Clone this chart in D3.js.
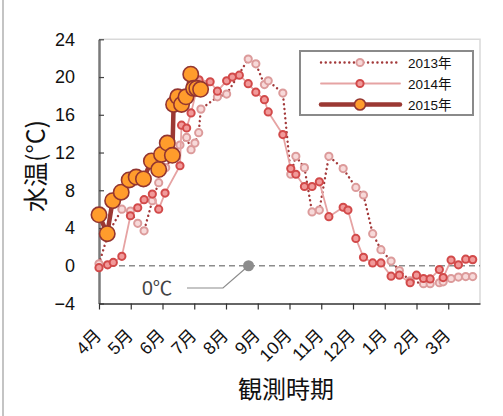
<!DOCTYPE html>
<html>
<head>
<meta charset="utf-8">
<script src="https://cdn.jsdelivr.net/npm/d3@7"></script>
<style>
  body { margin:0; background:#fff; }
  text { font-family: "Liberation Sans", "Noto Sans CJK JP", sans-serif; }
</style>
</head>
<body>
<script>
// month offset from Apr 1 (0..12), water temp
const months = ['4月','5月','6月','7月','8月','9月','10月','11月','12月','1月','2月','3月'];
const yTicks = [-4,0,4,8,12,16,20,24];

const d2013 = [[0,0.2],[0.3,3.5],[0.72,6.0],[0.99,5.8],[1.22,4.5],[1.42,3.7],[1.68,6.9],[1.88,8.8],[2.10,10.4],[2.55,12.8],[2.76,13.6],[2.90,12.3],[3.02,13.0],[3.14,14.1],[3.21,16.6],[3.73,17.9],[4.02,18.2],[4.70,21.9],[4.94,21.4],[5.21,19.2],[5.33,19.6],[5.79,18.3],[6.04,9.7],[6.20,11.6],[6.47,10.4],[6.71,5.7],[6.94,5.9],[7.24,11.6],[7.69,10.3],[8.09,8.3],[8.33,7.5],[8.62,3.4],[8.88,1.7],[9.20,0.5],[9.46,-0.5],[9.80,-1.6],[10.22,-1.9],[10.43,-1.9],[10.72,-1.8],[10.84,-1.7],[11.09,-1.35],[11.32,-1.2],[11.55,-1.15],[11.77,-1.15]];

const d2014 = [[0,-0.2],[0.27,0.1],[0.45,0.35],[0.72,1.0],[0.99,5.3],[1.22,6.15],[1.42,7.0],[1.68,7.6],[1.88,6.0],[2.08,7.7],[2.55,10.6],[2.60,14.9],[2.76,14.6],[2.90,16.2],[3.15,19.7],[3.50,19.5],[3.73,18.5],[4.02,19.6],[4.20,20.0],[4.42,20.2],[4.70,19.3],[4.94,18.4],[5.21,17.6],[5.33,16.3],[5.79,13.9],[6.04,10.3],[6.20,9.7],[6.47,8.4],[6.71,8.4],[6.94,8.9],[7.24,5.2],[7.69,6.2],[7.84,5.9],[8.09,2.9],[8.33,0.9],[8.62,0.3],[8.88,0.3],[9.20,-1.1],[9.46,-1.0],[9.80,-1.8],[10.0,-1.0],[10.22,-1.35],[10.43,-1.4],[10.72,-0.4],[10.84,-1.25],[11.09,0.6],[11.32,0.1],[11.55,0.7],[11.77,0.65]];

const d2015 = [[0,5.4],[0.26,3.4],[0.43,6.9],[0.70,7.8],[0.95,9.1],[1.17,9.4],[1.40,9.2],[1.65,11.1],[1.88,10.2],[1.97,11.8],[2.15,13.0],[2.31,11.7],[2.35,17.1],[2.48,17.9],[2.60,17.1],[2.74,17.9],[2.89,20.3],[2.98,18.8],[3.08,18.8],[3.20,18.7]];

const w = 503, h = 416;
const svg = d3.select('body').append('svg').attr('width',w).attr('height',h);

const x = d3.scaleLinear().domain([0,12]).range([99,480]);
const y = d3.scaleLinear().domain([-4,24]).range([303.5,39.3]);

// outer frame line on left
svg.append('line').attr('x1',3).attr('x2',3).attr('y1',0).attr('y2',h)
  .attr('stroke','#b0b0b0').attr('stroke-width',1.5);

// light border top/right
svg.append('path')
  .attr('d',`M${x(0)},${y(24)}H${x(12)}V${y(-4)}`)
  .attr('fill','none').attr('stroke','#d9d9d9').attr('stroke-width',1.5);

// zero line
svg.append('line').attr('x1',x(0)).attr('x2',x(12)).attr('y1',y(0)).attr('y2',y(0))
  .attr('stroke','#8c8c8c').attr('stroke-width',1.5).attr('stroke-dasharray','6,4');

// y axis
const yAx = svg.append('g').attr('transform',`translate(${x(0)},0)`)
  .call(d3.axisLeft(y).tickValues(yTicks).tickSizeInner(-5).tickSizeOuter(0).tickPadding(24)
    .tickFormat(d=>d<0?'−'+Math.abs(d):d));
yAx.select('.domain').attr('stroke','#7a7a7a').attr('stroke-width',2.5);
yAx.selectAll('.tick line').attr('stroke','#444').attr('stroke-width',1.2);
yAx.selectAll('.tick text').attr('font-size',18).attr('fill','#111')
  .style('font-family','"Liberation Sans", sans-serif');

// x axis
const xAx = svg.append('g').attr('transform',`translate(0,${y(-4)})`)
  .call(d3.axisBottom(x).tickValues(d3.range(12)).tickSizeInner(6).tickSizeOuter(0)
    .tickFormat(d=>months[d]));
xAx.select('.domain').attr('stroke','#333').attr('stroke-width',1.5);
xAx.selectAll('.tick line').attr('stroke','#333').attr('stroke-width',1.2);
xAx.selectAll('.tick text').attr('font-size',17.5).attr('fill','#111')
  .attr('text-anchor','end').attr('dy',0).attr('y',0)
  .attr('transform','translate(3,33) rotate(-45)');

// axis titles
svg.append('text').attr('transform','translate(45,166) rotate(-90)')
  .attr('text-anchor','middle').attr('font-size',25).attr('fill','#111')
  .style('font-family','"Noto Sans CJK JP", sans-serif').text('水温(°C)');
svg.append('text').attr('x',286).attr('y',398)
  .attr('text-anchor','middle').attr('font-size',24).attr('fill','#111')
  .style('font-family','"Noto Sans CJK JP", sans-serif').text('観測時期');

// 0C annotation
svg.append('polyline')
  .attr('points',[[187,288],[223,288],[x(4.71),y(0)]].map(p=>p.join(',')).join(' '))
  .attr('fill','none').attr('stroke','#8c8c8c').attr('stroke-width',1.2);
svg.append('circle').attr('cx',x(4.71)).attr('cy',y(0)).attr('r',5.5).attr('fill','#8c8c8c');
svg.append('text').attr('x',142).attr('y',295).attr('font-size',19.5).attr('fill','#444').text('0℃');

const line = d3.line().x(d=>x(d[0])).y(d=>y(d[1]));

const series = [
  {name:'2013年', data:d2013, lc:'#a3393a', lw:2.4, dash:'0.1,4.6', r:3.6, fill:'#f7d9d9', stroke:'#dc9b9b', sw:2},
  {name:'2014年', data:d2014, lc:'#e6a3a3', lw:1.8, dash:null, r:3.6, fill:'#f19a9a', stroke:'#d24a4a', sw:2},
  {name:'2015年', data:d2015, lc:'#9b3833', lw:4.5, dash:null, r:7.7, fill:'#ff9c2c', stroke:'#933530', sw:1.6}
];

series.forEach(s=>{
  const g = svg.append('g');
  g.append('path').datum(s.data).attr('d',line)
    .attr('fill','none').attr('stroke',s.lc).attr('stroke-width',s.lw)
    .attr('stroke-linecap','round').attr('stroke-linejoin','round')
    .attr('stroke-dasharray',s.dash);
  g.selectAll('circle').data(s.data).enter().append('circle')
    .attr('cx',d=>x(d[0])).attr('cy',d=>y(d[1])).attr('r',s.r)
    .attr('fill',s.fill).attr('stroke',s.stroke).attr('stroke-width',s.sw);
});

// legend
const lg = svg.append('g');
lg.append('rect').attr('x',300).attr('y',51).attr('width',173).attr('height',64)
  .attr('fill','#fff').attr('stroke','#8a8a8a').attr('stroke-width',2);
series.forEach((s,i)=>{
  const ly = 62.5 + i*21;
  lg.append('line').attr('x1',321).attr('x2',400).attr('y1',ly).attr('y2',ly)
    .attr('stroke',s.lc).attr('stroke-width',s.lw).attr('stroke-linecap','round')
    .attr('stroke-dasharray',s.dash);
  lg.append('circle').attr('cx',360).attr('cy',ly).attr('r',i==2?5.5:s.r)
    .attr('fill',s.fill).attr('stroke',s.stroke).attr('stroke-width',s.sw);
  lg.append('text').attr('x',408).attr('y',ly+5).attr('font-size',13.5).attr('fill','#111')
    .text(s.name);
});
</script>
</body>
</html>
